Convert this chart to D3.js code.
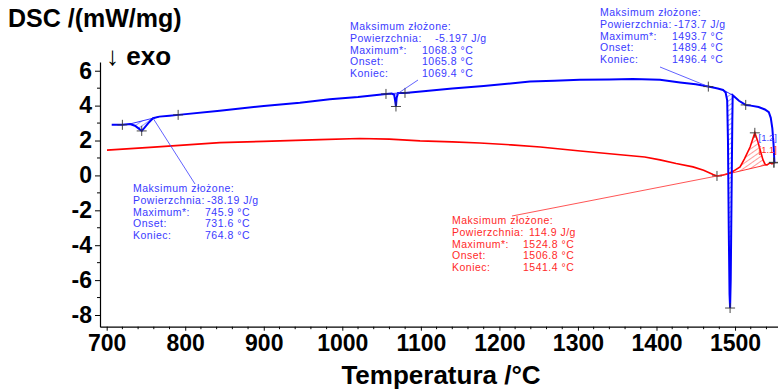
<!DOCTYPE html>
<html>
<head>
<meta charset="utf-8">
<script src="https://cdn.jsdelivr.net/npm/d3@7"></script>
<style>
  html, body { margin: 0; padding: 0; background: #fff; }
  svg { display: block; font-family: "Liberation Sans", Arial, sans-serif; }
</style>
</head>
<body>
<svg id="chart" width="778" height="389"></svg>
<script>
// ---------------- data ----------------
const xTicks = [700, 800, 900, 1000, 1100, 1200, 1300, 1400, 1500];
const yTicks = [-8, -6, -4, -2, 0, 2, 4, 6];

// blue DSC curve (temperature °C, mW/mg)
const blueT = [706.4, 720, 729.7, 736, 741, 744.6, 748, 753, 759, 767, 780, 791, 844, 900, 946, 984, 1020,
  1055.6, 1063, 1066, 1067.2, 1068.3, 1069.2, 1071, 1079.8, 1110, 1140, 1180, 1210, 1239, 1270, 1302.5, 1340,
  1370, 1404.5, 1430, 1450, 1466, 1478, 1484.7, 1488, 1490, 1491, 1492, 1493, 1493.7, 1494.5, 1495.5, 1496.5,
  1497, 1500, 1505, 1513.6, 1520, 1530, 1538, 1543, 1545.5, 1547.5, 1549, 1550.2];
const blueV = [2.9, 2.9, 2.95, 2.85, 2.68, 2.55, 2.72, 3.0, 3.28, 3.37, 3.42, 3.47, 3.7, 3.98, 4.16, 4.37, 4.5,
  4.67, 4.69, 4.62, 4.3, 3.95, 4.45, 4.72, 4.73, 4.85, 4.98, 5.12, 5.25, 5.38, 5.42, 5.48, 5.5,
  5.52, 5.48, 5.33, 5.22, 5.09, 4.98, 4.9, 4.75, 4.3, 2.0, -3.0, -6.8, -7.6, -6.0, -1.5, 3.0,
  4.6, 4.48, 4.28, 4.04, 4.0, 3.92, 3.78, 3.62, 3.3, 2.7, 1.8, 0.7];

// red DSC curve
const redT = [700.4, 760, 844, 900, 971.6, 1022, 1060, 1099, 1140, 1175, 1215, 1252, 1303, 1354, 1385, 1404.5,
  1425, 1446.5, 1460, 1472, 1477, 1485, 1491, 1498, 1506.4, 1512, 1519.2, 1525.2, 1529, 1532, 1535.6,
  1538.5, 1540.7, 1544.6, 1547, 1551];
const redV = [1.45, 1.62, 1.88, 1.95, 2.05, 2.12, 2.08, 1.98, 1.92, 1.86, 1.75, 1.63, 1.4, 1.18, 1.06, 0.89,
  0.68, 0.49, 0.3, 0.05, -0.03, 0.02, 0.09, 0.25, 0.49, 0.95, 1.63, 2.44, 1.95, 1.46, 0.89,
  0.62, 0.6, 0.72, 0.66, 0.77];

// integrated peaks: [start, end] temperatures of the baseline
const bluePeaks = [[729.7, 767], [1063, 1071], [1484.7, 1497]];
const redPeaks = [[1488, 1541.4]];

// "+" markers (temperature, value)
const blueMarkT = [720, 744.6, 791, 1055.6, 1068.3, 1079.8, 1466, 1493.7, 1513.6, 1549.5];
const blueMarkV = [2.9, 2.55, 3.47, 4.67, 3.95, 4.73, 5.09, -7.6, 4.04, 0.75];
const redMarkT = [1477, 1525.2, 1549.5];
const redMarkV = [-0.03, 2.44, 0.72];

// annotation texts
const annLabels = ["Maksimum złożone:", "Powierzchnia:", "Maximum*:", "Onset:", "Koniec:"];
const ann1Vals = ["-38.19 J/g", "745.9 °C", "731.6 °C", "764.8 °C"];
const ann2Vals = ["-5.197 J/g", "1068.3 °C", "1065.8 °C", "1069.4 °C"];
const ann3Vals = ["-173.7 J/g", "1493.7 °C", "1489.4 °C", "1496.4 °C"];
const ann4Vals = ["114.9 J/g", "1524.8 °C", "1506.8 °C", "1541.4 °C"];
const curveIds = ["[1.2]", "[1.1]"];

// ---------------- chart ----------------
const svg = d3.select("#chart");
const BLUE = "#0000ff", RED = "#ff0000", BLUE_T = "#3a3aff", RED_T = "#ff2a2a";

const x = d3.scaleLinear().domain([691.5, 1554.7]).range([100, 778]);
const y = d3.scaleLinear().domain([-8.67, 6.5]).range([326.7, 62]);

// patterns
const defs = svg.append("defs");
function hatch(id, color, angle) {
  const p = defs.append("pattern").attr("id", id).attr("patternUnits", "userSpaceOnUse")
    .attr("width", 4).attr("height", 4).attr("patternTransform", `rotate(${angle})`);
  p.append("line").attr("x1", 0).attr("y1", 0).attr("x2", 4).attr("y2", 0)
    .attr("stroke", color).attr("stroke-width", 0.8);
}
hatch("hb", BLUE, -35);
hatch("hr", RED, -35);

const fmt = d => String(d);

// axes
const xAxis = d3.axisBottom(x).tickValues(xTicks).tickFormat(fmt).tickSize(4).tickSizeOuter(0).tickPadding(4);
const gx = svg.append("g").attr("transform", `translate(0,${y.range()[0]})`).call(xAxis);
gx.selectAll("text").attr("font-size", 23).attr("font-weight", "bold").attr("fill", "#000")
  .attr("font-family", "Liberation Sans, Arial, sans-serif");
gx.select(".domain").attr("stroke", "#000").attr("stroke-width", 1.2);
const xMinor = d3.range(700, 1555, 20).filter(v => v % 100 !== 0);
gx.selectAll(".minor").data(xMinor).enter().append("line").attr("class", "minor")
  .attr("x1", d => x(d)).attr("x2", d => x(d)).attr("y1", 0).attr("y2", 2.5).attr("stroke", "#000");

const yAxis = d3.axisLeft(y).tickValues(yTicks).tickFormat(fmt).tickSize(5).tickSizeOuter(0).tickPadding(3);
const gy = svg.append("g").attr("transform", `translate(${x.range()[0]},0)`).call(yAxis);
gy.selectAll("text").attr("font-size", 23).attr("font-weight", "bold").attr("fill", "#000")
  .attr("font-family", "Liberation Sans, Arial, sans-serif");
gy.select(".domain").attr("stroke", "#000").attr("stroke-width", 1.2);
const yMinor = [-7, -5, -3, -1, 1, 3, 5];
gy.selectAll(".minor").data(yMinor).enter().append("line").attr("class", "minor")
  .attr("x1", 0).attr("x2", -3).attr("y1", d => y(d)).attr("y2", d => y(d)).attr("stroke", "#000");

// titles
svg.append("text").attr("x", 8).attr("y", 27).attr("font-size", 25).attr("font-weight", "bold")
  .text("DSC /(mW/mg)");
svg.append("text").attr("x", 106).attr("y", 65).attr("font-size", 26).attr("font-weight", "bold")
  .text("↓ exo");
svg.append("text").attr("x", 441).attr("y", 384).attr("text-anchor", "middle").attr("font-size", 26)
  .attr("font-weight", "bold").text("Temperatura /°C");

// hatched peak areas
function interp(T, V, t) {
  for (let i = 1; i < T.length; i++) {
    if (t <= T[i]) { const f = (t - T[i - 1]) / (T[i] - T[i - 1]); return V[i - 1] + f * (V[i] - V[i - 1]); }
  }
  return V[V.length - 1];
}
function peakArea(T, V, pk, fill, color) {
  const [a, b] = pk;
  const va = interp(T, V, a), vb = interp(T, V, b);
  const pts = [{ t: a, v: va }];
  T.forEach((t, i) => { if (t > a && t < b) pts.push({ t, v: V[i] }); });
  pts.push({ t: b, v: vb });
  const area = d3.area().x(d => x(d.t)).y0(d => y(va + (d.t - a) / (b - a) * (vb - va))).y1(d => y(d.v));
  svg.append("path").attr("d", area(pts)).attr("fill", fill).attr("stroke", "none");
  svg.append("line").attr("x1", x(a)).attr("y1", y(va)).attr("x2", x(b)).attr("y2", y(vb))
    .attr("stroke", color).attr("stroke-width", 0.8);
}
bluePeaks.forEach(p => peakArea(blueT, blueV, p, "url(#hb)", BLUE));
redPeaks.forEach(p => peakArea(redT, redV, p, "url(#hr)", RED));

// curves
const line = d3.line().x(d => x(d[0])).y(d => y(d[1]));
svg.append("path").attr("d", line(redT.map((t, i) => [t, redV[i]]))).attr("fill", "none")
  .attr("stroke", RED).attr("stroke-width", 1.6);
svg.append("path").attr("d", line(blueT.map((t, i) => [t, blueV[i]]))).attr("fill", "none")
  .attr("stroke", BLUE).attr("stroke-width", 2);

// markers
function plus(t, v) {
  const cx = x(t), cy = y(v);
  svg.append("path").attr("d", `M${cx - 5},${cy}H${cx + 5}M${cx},${cy - 5}V${cy + 5}`)
    .attr("stroke", "#333").attr("stroke-width", 0.9).attr("fill", "none");
}
blueMarkT.forEach((t, i) => plus(t, blueMarkV[i]));
redMarkT.forEach((t, i) => plus(t, redMarkV[i]));

// leader lines
function leader(t, v, px, py, color) {
  svg.append("line").attr("x1", x(t)).attr("y1", y(v)).attr("x2", px).attr("y2", py)
    .attr("stroke", color).attr("stroke-width", 0.8);
}
leader(759, 3.28, 195, 184, BLUE_T);
leader(1069.2, 4.65, 418, 80, BLUE_T);
leader(1466, 5.09, 660, 67, BLUE_T);
leader(1491, 0.09, 512, 216, RED_T);

// annotation blocks
function block(px, py, vals, vx, color) {
  const g = svg.append("g").attr("font-size", 10.5).attr("letter-spacing", 0.5).attr("fill", color);
  annLabels.forEach((s, i) => g.append("text").attr("x", px).attr("y", py + i * 11.8).text(s));
  vals.forEach((s, i) => g.append("text").attr("x", vx[i]).attr("y", py + (i + 1) * 11.8).text(s));
}
block(133, 192, ann1Vals, [207, 205, 205, 205], BLUE_T);
block(350, 30, ann2Vals, [435, 422, 422, 422], BLUE_T);
block(600, 16, ann3Vals, [674, 672, 672, 672], BLUE_T);
block(452, 224, ann4Vals, [529, 523, 523, 523], RED_T);

// curve id labels at right edge
svg.append("text").attr("x", 777).attr("y", 141).attr("text-anchor", "end").attr("font-size", 9.5)
  .attr("fill", BLUE_T).text(curveIds[0]);
svg.append("text").attr("x", 777).attr("y", 153).attr("text-anchor", "end").attr("font-size", 9.5)
  .attr("fill", RED_T).text(curveIds[1]);
</script>
</body>
</html>
